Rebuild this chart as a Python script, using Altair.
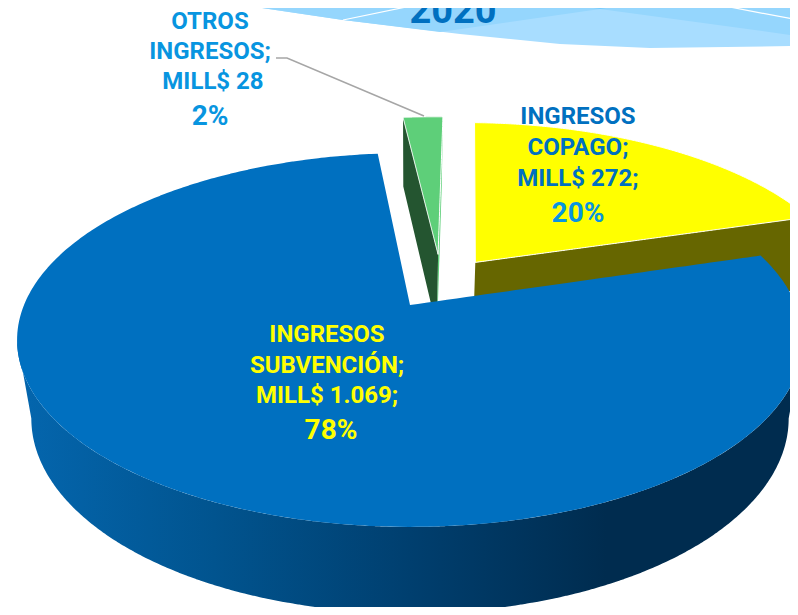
import numpy as np
import pandas as pd
import altair as alt

# ---- chart values
slice_names = ["INGRESOS SUBVENCIÓN", "OTROS INGRESOS", "INGRESOS COPAGO"]
slice_values = [1069, 28, 272]
slice_explode = [0.149, 0.172, 0.155]
first_angle = 73.2

# ---- label lines: text, centre x, baseline y, size, colour
label_text = ["OTROS", "INGRESOS;", "MILL$ 28", "2%",
              "INGRESOS", "COPAGO;", "MILL$ 272;", "20%",
              "INGRESOS", "SUBVENCIÓN;", "MILL$ 1.069;", "78%",
              "2020"]
label_x = [210, 210, 213, 210, 578, 578, 578, 578, 327, 327, 327, 331, 453]
label_y = [29, 59, 89, 125, 124, 155, 186, 222, 342, 373, 403, 439, 23]
label_size = [24, 24, 24, 28, 24, 24, 24, 28, 24, 24, 24, 28, 38]
label_color = ["#0895E0"] * 4 + ["#0070C0"] * 3 + ["#0895E0"] + ["#FFFF00"] * 4 + ["#0070C0"]

# ---- decoration (page background bands at the top)
band_light = [(208, 0), (343, 20), (460, 34), (560, 44), (650, 48), (798, 46), (798, 0)]
band_mid = [(208, 0), (343, 20), (440, 32), (600, 9), (798, 36), (798, 0)]
band_dark = [(540, 0), (600, 9), (657, 0)]
white_line_a = [(343, 20), (440, 0)]
white_line_b = [(693, 0), (798, 20)]
leader = [(276, 58), (287, 58), (424, 116)]

# ---- view of the tilted pie: top and bottom faces
K = 0.187
TOP = dict(x0=410, y0=305, a=386, b=180.4)
BOT = dict(x0=410, y0=382, a=372, b=187.9)


def project(u, v, face):
    w = 1 + K * np.asarray(v)
    return face["x0"] + face["a"] * np.asarray(u) / w, face["y0"] - face["b"] * np.asarray(v) / w


shares = np.array(slice_values) / sum(slice_values)
starts = first_angle + 360 * np.concatenate([[0], np.cumsum(shares)[:-1]])
ends = starts + 360 * shares
mids = (starts + ends) / 2
# pie centre seen from the first slice's own centre
ref = np.array([np.sin(np.radians(mids[0])), np.cos(np.radians(mids[0]))]) * slice_explode[0]
centres = [np.array([np.sin(np.radians(m)), np.cos(np.radians(m))]) * e - ref
           for m, e in zip(mids, slice_explode)]


def rim(i, a0, a1, face, n=240):
    t = np.radians(np.linspace(a0, a1, n))
    return project(centres[i][0] + np.sin(t), centres[i][1] + np.cos(t), face)


def envelope(px, py):
    px, py = np.asarray(px, float), np.asarray(py, float)
    qx, qy = np.roll(px, -1), np.roll(py, -1)
    rows = []
    for x in np.unique(np.round(px, 3)):
        lo, hi = np.minimum(px, qx), np.maximum(px, qx)
        m = (lo <= x + 1e-3) & (hi >= x - 1e-3)
        d = qx[m] - px[m]
        f = np.where(np.abs(d) < 1e-9, 0.0, (x - px[m]) / np.where(np.abs(d) < 1e-9, 1, d))
        ys = py[m] + np.clip(f, 0, 1) * (qy[m] - py[m])
        rows.append({"x": x, "y": ys.min(), "y2": ys.max()})
    return pd.DataFrame(rows)


def sector(i, face=TOP):
    rx, ry = rim(i, starts[i], ends[i], face)
    ax, ay = project(centres[i][0], centres[i][1], face)
    return np.append(rx, ax), np.append(ry, ay)


def wall(i, angle):
    t = np.radians(angle)
    c = centres[i]
    ax, ay = project(c[0], c[1], TOP)
    bx, by = project(c[0] + np.sin(t), c[1] + np.cos(t), TOP)
    cx, cy = project(c[0] + np.sin(t), c[1] + np.cos(t), BOT)
    dx, dy = project(c[0], c[1], BOT)
    return [ax, bx, cx, dx], [ay, by, cy, dy]


X = alt.X("x:Q", scale=alt.Scale(domain=[8, 790], range=[0, 782], nice=False, zero=False), axis=None)
Y = alt.Y("y:Q", scale=alt.Scale(domain=[8, 607], range=[0, 599], nice=False, zero=False), axis=None)


def area(px, py, color, **kw):
    return alt.Chart(envelope(px, py)).mark_area(color=color, clip=True, **kw).encode(x=X, y=Y, y2="y2:Q")


def band(points, color):
    p = np.array(points, float)
    return area(p[:, 0], p[:, 1], color)


def line(points, color, width):
    df = pd.DataFrame(points, columns=["x", "y"]).assign(o=range(len(points)))
    return alt.Chart(df).mark_line(color=color, strokeWidth=width, clip=True).encode(x=X, y=Y, order="o:Q")


# blue outer wall with its left-to-right shading
ext = np.degrees(np.arcsin(K))
tx, ty = rim(0, 90 + ext, 270 - ext, TOP)
bx, by = rim(0, 270 - ext, 90 + ext, BOT)
blue_wall = area(
    np.concatenate([tx, bx]), np.concatenate([ty, by]),
    alt.Gradient(
        gradient="linear", x1=0, x2=1, y1=0, y2=0,
        stops=[
            alt.GradientStop(offset=0, color="#0466AE"),
            alt.GradientStop(offset=0.25, color="#01548F"),
            alt.GradientStop(offset=0.5, color="#003F6F"),
            alt.GradientStop(offset=0.75, color="#002C4F"),
            alt.GradientStop(offset=1, color="#002C4F"),
        ],
    ),
)

layers = [
    band(band_light, "#A8DDFF"),
    band(band_mid, "#95D6FD"),
    band(band_dark, "#74CAFD"),
    line(white_line_a, "#FFFFFF", 1.2),
    line(white_line_b, "#FFFFFF", 1.2),
    area(*wall(2, ends[2]), "#666600"),
    area(*sector(2), "#FFFF00", stroke="#FFFFFF", strokeWidth=1),
    area(*wall(1, starts[1]), "#245530"),
    area(*wall(1, ends[1]), "#5ECF79"),
    area(*sector(1), "#5ECF79", stroke="#FFFFFF", strokeWidth=1),
    blue_wall,
    area(*sector(0), "#0070C0"),
    line(leader, "#A6A6A6", 1.6),
]

labels = pd.DataFrame({"x": label_x, "y": label_y, "text": label_text,
                       "size": label_size, "color": label_color})
text = alt.Chart(labels).mark_text(
    font="Roboto", fontWeight="bold", align="center", baseline="alphabetic"
).encode(
    x=X, y=Y, text="text:N",
    size=alt.Size("size:Q", scale=None, legend=None),
    color=alt.Color("color:N", scale=None, legend=None),
)

chart = alt.layer(*layers, text).properties(
    width=782, height=599, padding=0, autosize=alt.AutoSizeParams(type="none")
).configure_view(stroke=None)

chart.save("out.html", embed_options={"renderer": "svg", "actions": False})
